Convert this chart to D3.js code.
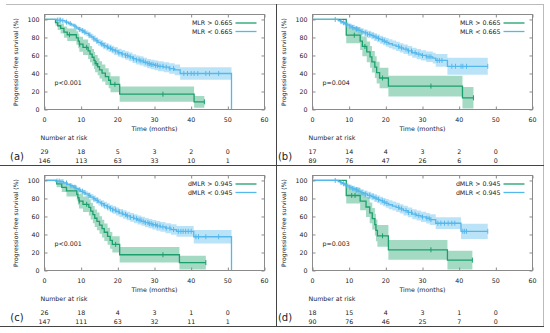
<!DOCTYPE html>
<html>
<head>
<meta charset="utf-8">
<script src="https://cdn.jsdelivr.net/npm/d3@7"></script>
<style>
body { margin: 0; background: #fff; }
svg text { font-family: "DejaVu Sans", Verdana, sans-serif; fill: #222; }
</style>
</head>
<body>
<div id="chart"></div>
<script>
// ticks & labels
var timeTicks = [0, 10, 20, 30, 40, 50, 60];
var survTicks = [0, 20, 40, 60, 80, 100];
var riskTimes = [0, 10, 20, 30, 40, 50];
var legendMLR = ["MLR > 0.665", "MLR < 0.665"];
var legendDMLR = ["dMLR > 0.945", "dMLR < 0.945"];
var pValues = ["p<0.001", "p=0.004", "p<0.001", "p=0.003"];
var panelTags = ["(a)", "(b)", "(c)", "(d)"];

// (a) MLR, cohort 1
var aHighT = [0, 3.0, 3.6, 4.4, 5.3, 6.2, 8.7, 9.2, 9.5, 10.5, 11.9, 12.4, 13.0, 13.5, 13.8, 14.5, 15.0, 15.7, 16.6, 17.5, 18.0, 20.5, 40.8];
var aHighS = [100, 96.5, 93, 90, 86, 83, 79.5, 76, 72.5, 69, 65, 61.5, 58, 54.5, 51, 47.5, 44, 40.5, 36.5, 32.5, 28, 17, 8.5];
var aHighErr = [0, 3.5, 4.7, 5.5, 6.3, 7, 7.5, 8, 8.3, 8.6, 8.9, 9.1, 9.3, 9.4, 9.5, 9.5, 9.5, 9.4, 9.2, 9, 8.8, 8.5, 6.5];
var aHighCens = [6.8, 9.6, 11.5, 14.1, 19.2, 32.3, 43.6];
var aHighEnd = 43.6;

var aLowT = [0, 3.2, 4.6, 5.6, 6.5, 7.3, 8.0, 8.7, 9.3, 10.0, 10.7, 11.3, 12.0, 12.7, 13.3, 14.0, 14.6, 15.3, 16.0, 16.8, 17.5, 18.3, 19.0, 20.0, 21.0, 22.0, 23.0, 24.0, 25.0, 26.0, 27.0, 28.0, 29.0, 30.0, 31.0, 32.5, 34.0, 35.5, 37.0, 51];
var aLowS = [100, 99.3, 98.6, 97, 95.5, 94, 92.5, 90.5, 89, 87.5, 86, 84.5, 82.5, 80.5, 78.5, 76.5, 74.5, 73, 71, 69.5, 68, 66.5, 65, 63, 61.5, 60, 58.5, 56.5, 55, 54, 52.5, 51, 50, 49, 48, 47, 45.5, 44, 40, 0];
var aLowErr = [0, 0.7, 1, 1.4, 1.7, 2, 2.2, 2.4, 2.6, 2.8, 3, 3.1, 3.3, 3.5, 3.6, 3.7, 3.8, 3.9, 4, 4.1, 4.2, 4.3, 4.4, 4.5, 4.6, 4.7, 4.8, 4.9, 5, 5, 5.1, 5.2, 5.3, 5.4, 5.5, 5.6, 5.8, 6, 7, 0];
var aLowCens = [3.5, 4.0, 4.4, 5.0, 6.0, 7.0, 8.3, 9.6, 10.4, 11.0, 12.2, 13.5, 14.3, 15.6, 16.3, 17.2, 18.0, 18.6, 19.4, 20.3, 21.2, 22.1, 22.6, 23.4, 24.3, 25.1, 25.8, 26.3, 26.9, 27.5, 28.2, 28.6, 29.1, 29.6, 30.3, 30.8, 31.5, 32.3, 33.2, 34.2, 35.2, 38.0, 39.0, 40.0, 40.8, 41.8, 44.0, 45.0, 47.5];
var aLowEnd = 51;

var aRiskHigh = [29, 18, 5, 3, 2, 0];
var aRiskLow = [146, 113, 63, 33, 10, 1];

// (b) MLR, cohort 2
var bHighT = [0, 9.2, 13.0, 13.6, 14.8, 15.7, 16.2, 17.0, 17.5, 18.3, 20.7, 40.9];
var bHighS = [100, 82.5, 76, 70, 64, 58.5, 53, 47, 41, 35, 26, 13];
var bHighErr = [0, 9, 10, 11, 11.5, 12, 12, 12, 12, 11.5, 11.5, 12];
var bHighCens = [11.4, 14.3, 19.1, 32.3, 43.9];
var bHighEnd = 43.9;

var bLowT = [0, 7.0, 7.6, 8.2, 8.8, 9.4, 10.0, 10.8, 11.6, 12.4, 13.2, 14.0, 15.0, 16.0, 16.8, 17.6, 18.4, 19.2, 20.0, 20.8, 21.8, 22.8, 23.8, 24.8, 26.0, 27.2, 28.4, 29.6, 31.0, 32.8, 33.6, 36.8];
var bLowS = [100, 98.8, 97.6, 96.4, 95.2, 94, 92.5, 91, 89.5, 88, 86.5, 85, 83.5, 82, 80.5, 79, 77.5, 76, 74.5, 73, 71.5, 70, 68.5, 67, 65, 63, 61.5, 60, 58.5, 57, 54.5, 48];
var bLowErr = [0, 1.2, 1.6, 2, 2.3, 2.5, 2.8, 3, 3.2, 3.4, 3.6, 3.8, 4, 4.1, 4.3, 4.4, 4.5, 4.6, 4.8, 4.9, 5, 5.1, 5.2, 5.3, 5.4, 5.5, 5.6, 5.7, 5.8, 6, 7, 9.5];
var bLowCens = [6.2, 7.8, 8.5, 9.4, 10.2, 11.0, 12.0, 13.5, 14.5, 15.0, 15.6, 16.5, 17.3, 18.0, 19.0, 19.6, 20.3, 23.5, 24.3, 25.5, 26.2, 27.0, 28.0, 29.0, 30.0, 31.2, 31.8, 32.3, 34.0, 34.6, 35.3, 38.0, 39.0, 40.5, 41.0, 42.0, 47.8];
var bLowEnd = 47.8;

var bRiskHigh = [17, 14, 4, 3, 2, 0];
var bRiskLow = [89, 76, 47, 26, 6, 0];

// (c) dMLR, cohort 1
var cHighT = [0, 3.3, 4.7, 6.0, 8.8, 9.1, 9.4, 10.5, 12.1, 12.6, 13.2, 13.7, 14.3, 15.0, 15.7, 16.3, 17.2, 17.9, 18.5, 20.5, 36.8];
var cHighS = [100, 96.2, 92.3, 88.5, 84.6, 80.8, 77, 73.5, 70, 66, 62, 58, 54.5, 50.5, 46.5, 42.5, 38, 33.5, 29, 17.5, 8.8];
var cHighErr = [0, 3.8, 5.2, 6.2, 7, 7.7, 8.2, 8.6, 9, 9.3, 9.5, 9.7, 9.8, 9.8, 9.8, 9.7, 9.5, 9.3, 9, 8.5, 7.7];
var cHighCens = [9.5, 11.5, 19.4, 32.3, 44.0];
var cHighEnd = 44.0;

var cLowT = [0, 3.0, 4.2, 5.2, 6.2, 7.0, 7.8, 8.5, 9.2, 9.8, 10.5, 11.2, 11.9, 12.6, 13.3, 14.0, 14.7, 15.4, 16.2, 17.0, 17.8, 18.6, 19.5, 20.4, 21.4, 22.4, 23.4, 24.4, 25.4, 26.4, 27.4, 28.4, 29.4, 30.5, 31.6, 33.0, 34.5, 36.0, 40.7, 51];
var cLowS = [100, 99.3, 98.6, 97.2, 95.6, 94.2, 92.6, 91, 89.6, 88, 86.5, 85, 83.3, 81.5, 79.7, 77.8, 76, 74.2, 72.4, 70.6, 68.9, 67.2, 65.5, 63.8, 62.2, 60.6, 59, 57.5, 56, 54.6, 53.2, 52, 50.8, 49.6, 48.4, 47, 45.5, 43.5, 37.5, 0];
var cLowErr = [0, 0.7, 1, 1.4, 1.7, 2, 2.2, 2.4, 2.6, 2.8, 3, 3.1, 3.3, 3.5, 3.6, 3.7, 3.8, 3.9, 4, 4.1, 4.2, 4.3, 4.4, 4.5, 4.6, 4.7, 4.8, 4.9, 5, 5, 5.1, 5.2, 5.3, 5.4, 5.5, 5.6, 5.8, 6, 7.5, 0];
var cLowCens = [3.4, 4.0, 4.5, 5.0, 6.0, 7.2, 8.3, 9.6, 10.4, 11.0, 12.2, 13.5, 14.4, 15.6, 16.3, 17.2, 18.0, 18.6, 19.4, 20.3, 21.2, 22.1, 22.6, 23.4, 24.3, 25.1, 25.8, 26.3, 26.9, 27.5, 28.2, 28.6, 29.1, 29.6, 30.3, 30.8, 31.5, 32.3, 33.2, 34.2, 35.2, 36.5, 37.2, 37.8, 38.5, 39.2, 40.0, 41.3, 42.0, 44.0, 47.5];
var cLowEnd = 51;

var cRiskHigh = [26, 18, 4, 3, 1, 0];
var cRiskLow = [147, 111, 63, 32, 11, 1];

// (d) dMLR, cohort 2
var dHighT = [0, 9.2, 13.0, 14.6, 15.6, 16.3, 17.0, 17.3, 17.7, 20.7, 36.8];
var dHighS = [100, 83.3, 77, 70.5, 64, 57.5, 51, 44.5, 38.5, 23, 11.5];
var dHighErr = [0, 9, 10, 11, 11.5, 12, 12, 12, 12, 11, 10.5];
var dHighCens = [10.7, 11.6, 19.1, 32.3, 43.6];
var dHighEnd = 43.6;

var dLowT = [0, 7.0, 7.6, 8.2, 8.8, 9.4, 10.0, 10.8, 11.6, 12.4, 13.2, 14.0, 15.0, 16.0, 16.8, 17.6, 18.4, 19.2, 20.0, 20.8, 21.8, 22.8, 23.8, 24.8, 26.0, 27.2, 28.4, 29.6, 31.0, 32.0, 33.6, 40.5];
var dLowS = [100, 98.8, 97.6, 96.4, 95.2, 94, 92.5, 91, 89.5, 88, 86.5, 85, 83.5, 82, 80.5, 79, 77.5, 76, 74.5, 73, 71.5, 70, 68.5, 66.5, 64.5, 62.5, 61, 59.5, 58, 56.5, 52.5, 43.5];
var dLowErr = [0, 1.2, 1.6, 2, 2.3, 2.5, 2.8, 3, 3.2, 3.4, 3.6, 3.8, 4, 4.1, 4.3, 4.4, 4.5, 4.6, 4.8, 4.9, 5, 5.1, 5.2, 5.3, 5.4, 5.5, 5.6, 5.7, 5.8, 6, 6.5, 8.5];
var dLowCens = [6.2, 7.8, 8.5, 9.4, 10.2, 11.0, 12.0, 13.5, 14.5, 15.6, 16.5, 17.3, 18.0, 19.0, 19.6, 20.3, 23.5, 24.3, 25.5, 26.2, 27.0, 28.0, 29.0, 30.0, 31.2, 31.8, 32.3, 34.2, 35.0, 36.0, 37.0, 38.0, 38.8, 41.0, 41.5, 42.0, 47.8];
var dLowEnd = 47.8;

var dRiskHigh = [18, 15, 4, 3, 1, 0];
var dRiskLow = [90, 76, 46, 25, 7, 0];

var greenCol = "#1c9f6c";
var blueCol = "#55b8ec";

var width = 550, height = 333;
var plotW = 220, plotH = 95;

var svg = d3.select("#chart").append("svg")
  .attr("width", width)
  .attr("height", height);

function curve(T, S, E, C, end) {
  return {t: T, s: S, e: E, c: C, end: end};
}

var panels = [
  {ox: 0, oy: 0, names: legendMLR, hi: curve(aHighT, aHighS, aHighErr, aHighCens, aHighEnd), lo: curve(aLowT, aLowS, aLowErr, aLowCens, aLowEnd), risk: [aRiskHigh, aRiskLow]},
  {ox: 268, oy: 0, names: legendMLR, hi: curve(bHighT, bHighS, bHighErr, bHighCens, bHighEnd), lo: curve(bLowT, bLowS, bLowErr, bLowCens, bLowEnd), risk: [bRiskHigh, bRiskLow]},
  {ox: 0, oy: 161, names: legendDMLR, hi: curve(cHighT, cHighS, cHighErr, cHighCens, cHighEnd), lo: curve(cLowT, cLowS, cLowErr, cLowCens, cLowEnd), risk: [cRiskHigh, cRiskLow]},
  {ox: 268, oy: 161, names: legendDMLR, hi: curve(dHighT, dHighS, dHighErr, dHighCens, dHighEnd), lo: curve(dLowT, dLowS, dLowErr, dLowCens, dLowEnd), risk: [dRiskHigh, dRiskLow]}
];

// frame lines
svg.append("line").attr("x1", 6).attr("x2", 544).attr("y1", 4.5).attr("y2", 4.5).attr("stroke", "#bbb");
svg.append("line").attr("x1", 543.5).attr("x2", 543.5).attr("y1", 4).attr("y2", 327).attr("stroke", "#bbb");
svg.append("line").attr("x1", 0).attr("x2", 544).attr("y1", 165.5).attr("y2", 165.5).attr("stroke", "#444");
svg.append("line").attr("x1", 0).attr("x2", 544).attr("y1", 326.5).attr("y2", 326.5).attr("stroke", "#444");
svg.append("line").attr("x1", 276.5).attr("x2", 276.5).attr("y1", 4).attr("y2", 327).attr("stroke", "#444");

function survAt(c, t) {
  var v = c.s[0];
  for (var i = 0; i < c.t.length; i++) {
    if (c.t[i] <= t) v = c.s[i];
  }
  return v;
}

function pts(c) {
  var p = c.t.map(function(t, i) {
    return {t: t, s: c.s[i], e: c.e[i]};
  });
  var last = p[p.length - 1];
  p.push({t: c.end, s: last.s, e: last.e});
  return p;
}

panels.forEach(function(pn, idx) {
  var left = pn.ox + 44.5, top = pn.oy + 14.5;
  var bottom = top + plotH, right = left + plotW;
  var g = svg.append("g");

  var x = d3.scaleLinear().domain([0, 60]).range([left, right]);
  var y = d3.scaleLinear().domain([0, 105.5]).range([bottom, top]);

  var band = d3.area()
    .curve(d3.curveStepAfter)
    .x(function(d) { return x(d.t); })
    .y0(function(d) { return y(Math.max(0, d.s - d.e)); })
    .y1(function(d) { return y(Math.min(100, d.s + d.e)); });

  var line = d3.line()
    .curve(d3.curveStepAfter)
    .x(function(d) { return x(d.t); })
    .y(function(d) { return y(d.s); });

  var groups = [[pn.hi, greenCol], [pn.lo, blueCol]];

  groups.forEach(function(gr) {
    g.append("path").datum(pts(gr[0]))
      .attr("d", band)
      .attr("fill", gr[1])
      .attr("fill-opacity", 0.4);
  });

  groups.forEach(function(gr) {
    g.append("path").datum(pts(gr[0]))
      .attr("d", line)
      .attr("fill", "none")
      .attr("stroke", gr[1])
      .attr("stroke-width", 1.3);
    g.selectAll(null).data(gr[0].c).enter()
      .append("line")
      .attr("x1", function(d) { return x(d); })
      .attr("x2", function(d) { return x(d); })
      .attr("y1", function(d) { return y(survAt(gr[0], d)) - 2.5; })
      .attr("y2", function(d) { return y(survAt(gr[0], d)) + 2.5; })
      .attr("stroke", gr[1])
      .attr("stroke-width", 1);
  });

  // box and inward ticks
  g.append("rect")
    .attr("x", left).attr("y", top)
    .attr("width", plotW).attr("height", plotH)
    .attr("fill", "none").attr("stroke", "#8a8a8a");

  var axes = [
    [d3.axisBottom(x).tickValues(timeTicks), "translate(0," + bottom + ")"],
    [d3.axisTop(x).tickValues(timeTicks), "translate(0," + top + ")"],
    [d3.axisLeft(y).tickValues(survTicks), "translate(" + left + ",0)"],
    [d3.axisRight(y).tickValues(survTicks), "translate(" + right + ",0)"]
  ];
  axes.forEach(function(a) {
    var ax = g.append("g").attr("transform", a[1])
      .call(a[0].tickSize(-3).tickFormat(""));
    ax.select(".domain").remove();
    ax.selectAll("line").attr("stroke", "#8a8a8a");
  });

  g.selectAll(null).data(timeTicks).enter().append("text")
    .attr("x", function(d) { return x(d); })
    .attr("y", bottom + 10)
    .attr("dy", "0.35em")
    .attr("text-anchor", "middle")
    .attr("font-size", 6.3)
    .text(function(d) { return d; });

  g.selectAll(null).data(survTicks).enter().append("text")
    .attr("x", left - 5)
    .attr("y", function(d) { return y(d); })
    .attr("dy", "0.35em")
    .attr("text-anchor", "end")
    .attr("font-size", 6.3)
    .text(function(d) { return d; });

  g.append("text")
    .attr("x", (left + right) / 2)
    .attr("y", bottom + 19)
    .attr("dy", "0.35em")
    .attr("text-anchor", "middle")
    .attr("font-size", 6.3)
    .text("Time (months)");

  g.append("text")
    .attr("transform", "translate(" + (left - 29) + "," + ((top + bottom) / 2) + ")rotate(-90)")
    .attr("dy", "0.35em")
    .attr("text-anchor", "middle")
    .attr("font-size", 6.1)
    .text("Progression-free survival (%)");

  // legend
  pn.names.forEach(function(nm, i) {
    var ly = top + 8.5 + i * 8.5;
    g.append("text")
      .attr("x", right - 32)
      .attr("y", ly)
      .attr("dy", "0.35em")
      .attr("text-anchor", "end")
      .attr("font-size", 6.3)
      .text(nm);
    g.append("line")
      .attr("x1", right - 29).attr("x2", right - 8)
      .attr("y1", ly).attr("y2", ly)
      .attr("stroke", i === 0 ? greenCol : blueCol)
      .attr("stroke-width", 1.3);
  });

  g.append("text")
    .attr("x", left + 10)
    .attr("y", top + 68)
    .attr("dy", "0.35em")
    .attr("font-size", 6.3)
    .text(pValues[idx]);

  // number at risk
  g.append("text")
    .attr("x", left - 4)
    .attr("y", bottom + 28)
    .attr("dy", "0.35em")
    .attr("font-size", 6.3)
    .text("Number at risk");

  pn.risk.forEach(function(row, r) {
    g.selectAll(null).data(row).enter().append("text")
      .attr("x", function(d, i) { return x(riskTimes[i]); })
      .attr("y", bottom + 42 + r * 9)
      .attr("dy", "0.35em")
      .attr("text-anchor", "middle")
      .attr("font-size", 6.3)
      .text(function(d) { return d; });
  });

  g.append("text")
    .attr("x", pn.ox + 17)
    .attr("y", bottom + 47)
    .attr("dy", "0.35em")
    .attr("text-anchor", "middle")
    .attr("font-size", 10)
    .text(panelTags[idx]);
});
</script>
</body>
</html>
